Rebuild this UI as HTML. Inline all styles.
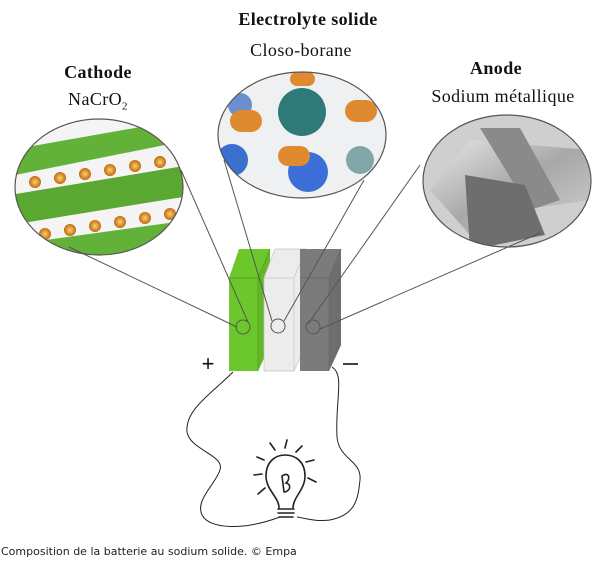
<!DOCTYPE html>
<html><head><meta charset="utf-8"><style>
body{margin:0;background:#fff;width:602px;height:562px;overflow:hidden;position:relative;font-family:"Liberation Serif",serif;}
.t{position:absolute;font-size:18px;letter-spacing:0.4px;color:#111;text-align:center;white-space:nowrap;transform:translateX(-50%);}
.b{font-weight:bold;}
.cap{position:absolute;left:1px;top:545px;font:11px "DejaVu Sans","Liberation Sans",sans-serif;color:#222;}
</style></head><body>
<div class="t b" style="left:308px;top:9px">Electrolyte solide</div>
<div class="t" style="left:301px;top:40px">Closo-borane</div>
<div class="t b" style="left:98px;top:62px">Cathode</div>
<div class="t" style="left:98px;top:89px">NaCrO<sub style="font-size:11px">2</sub></div>
<div class="t b" style="left:496px;top:58px">Anode</div>
<div class="t" style="left:503px;top:86px">Sodium métallique</div>
<svg width="602" height="562" style="position:absolute;left:0;top:0">
<defs>
<clipPath id="cl"><ellipse cx="99" cy="187" rx="84" ry="68"/></clipPath>
<clipPath id="cm"><ellipse cx="302" cy="135" rx="84" ry="63"/></clipPath>
<clipPath id="cr"><ellipse cx="507" cy="181" rx="84" ry="66"/></clipPath>
<radialGradient id="ball"><stop offset="0" stop-color="#ffd070"/><stop offset="1" stop-color="#c06a10"/></radialGradient>
<linearGradient id="metal" x1="0" y1="0" x2="1" y2="1"><stop offset="0" stop-color="#e8e8e8"/><stop offset="0.5" stop-color="#a8a8a8"/><stop offset="1" stop-color="#d0d0d0"/></linearGradient>
</defs>
<g clip-path="url(#cl)">
<rect x="0" y="110" width="200" height="160" fill="#f4f4f4"/>
<polygon points="10,150 180,120 190,140 15,175" fill="#62b23a"/>
<polygon points="10,195 190,165 195,195 10,225" fill="#5aa832"/>
<polygon points="10,245 190,220 195,250 10,275" fill="#62b23a"/>
<g fill="url(#ball)">
<circle cx="35" cy="182" r="6"/><circle cx="60" cy="178" r="6"/><circle cx="85" cy="174" r="6"/><circle cx="110" cy="170" r="6"/><circle cx="135" cy="166" r="6"/><circle cx="160" cy="162" r="6"/>
<circle cx="45" cy="234" r="6"/><circle cx="70" cy="230" r="6"/><circle cx="95" cy="226" r="6"/><circle cx="120" cy="222" r="6"/><circle cx="145" cy="218" r="6"/><circle cx="170" cy="214" r="6"/>
</g>
</g>
<ellipse cx="99" cy="187" rx="84" ry="68" fill="none" stroke="#555" stroke-width="1.2"/>
<g clip-path="url(#cm)">
<rect x="210" y="70" width="180" height="130" fill="#eef0f2"/>
<circle cx="302" cy="112" r="24" fill="#2f7a78"/>
<circle cx="232" cy="160" r="16" fill="#3b6fd0"/>
<circle cx="308" cy="172" r="20" fill="#3c70d8"/>
<circle cx="360" cy="160" r="14" fill="#7fa8a6"/>
<circle cx="240" cy="105" r="12" fill="#6a8fd0"/>
<rect x="230" y="110" width="32" height="22" rx="11" fill="#e08a30"/>
<rect x="278" y="146" width="32" height="20" rx="10" fill="#e08a30"/>
<rect x="345" y="100" width="32" height="22" rx="11" fill="#e08a30"/>
<rect x="290" y="72" width="25" height="14" rx="7" fill="#e08a30"/>
<rect x="218" y="180" width="22" height="18" rx="9" fill="#e08a30"/>
</g>
<ellipse cx="302" cy="135" rx="84" ry="63" fill="none" stroke="#555" stroke-width="1.2"/>
<g clip-path="url(#cr)">
<rect x="420" y="110" width="180" height="140" fill="#cfcfcf"/>
<polygon points="430,190 470,140 590,150 590,200 520,210 470,235" fill="url(#metal)"/>
<polygon points="480,128 520,128 560,200 530,210" fill="#8a8a8a"/>
<polygon points="465,175 525,185 545,235 470,250" fill="#6e6e6e"/>
</g>
<ellipse cx="507" cy="181" rx="84" ry="66" fill="none" stroke="#555" stroke-width="1.2"/>
<polygon points="229,278 239,249 270,249 270,345 258,371 229,371" fill="#6cc72c"/>
<polygon points="258,278 270,249 270,345 258,371" fill="#62b825"/>
<polyline points="229,278 258,278 258,371" fill="none" stroke="#4f9a1e" stroke-width="0.7"/>
<line x1="258" y1="278" x2="270" y2="249" stroke="#4f9a1e" stroke-width="0.7"/>
<polygon points="264,278 275,249 306,249 306,345 294,371 264,371" fill="#ececec" stroke="#c4c4c4" stroke-width="0.7"/>
<polyline points="264,278 294,278 294,371" fill="none" stroke="#c4c4c4" stroke-width="0.7"/>
<line x1="294" y1="278" x2="306" y2="249" stroke="#c4c4c4" stroke-width="0.7"/>
<polygon points="300,278 300,249 341,249 341,345 329,371 300,371" fill="#7b7b7b"/>
<polygon points="329,278 341,249 341,345 329,371" fill="#6e6e6e"/>
<polyline points="300,278 329,278 329,371" fill="none" stroke="#666" stroke-width="0.7"/>
<line x1="329" y1="278" x2="341" y2="249" stroke="#666" stroke-width="0.7"/>
<g stroke="#555" stroke-width="1" fill="none">
<line x1="69" y1="247" x2="237" y2="327"/>
<line x1="181" y1="170" x2="248" y2="322"/>
<line x1="224" y1="160" x2="272" y2="321"/>
<line x1="364" y1="180" x2="284" y2="321"/>
<line x1="420" y1="165" x2="308" y2="324"/>
<line x1="540" y1="233" x2="320" y2="329"/>
<circle cx="243" cy="327" r="7"/>
<circle cx="278" cy="326" r="7"/>
<circle cx="313" cy="327" r="7"/>
</g>
<text x="208" y="371" font-family="Liberation Sans,sans-serif" font-size="22" text-anchor="middle" fill="#111">+</text>
<line x1="343" y1="364" x2="358" y2="364" stroke="#111" stroke-width="1.6"/>
<path d="M233,372 C210,395 185,410 187,432 C190,450 225,455 220,470 C215,485 195,500 202,515 C210,530 245,530 280,517" fill="none" stroke="#222" stroke-width="1"/>
<path d="M332,367 C345,375 335,400 337,437 C339,460 362,460 360,480 C358,500 355,515 330,520 C315,522 305,518 297,517" fill="none" stroke="#222" stroke-width="1"/>
<g stroke="#222" stroke-width="1.6" fill="none" stroke-linecap="round">
<path d="M279,508 C279,497 266,490 266,476 C266,462 275,455 285,455 C296,455 305,462 305,476 C305,490 293,497 293,508"/>
<path d="M278,509 L294,509 M278,513 L294,513 M279,517 L293,517"/>
<path d="M284,492 L282,476 C289,471 291,479 286,483 C293,485 289,492 284,492"/>
<path d="M285,448 L287,440 M275,450 L270,443 M296,452 L302,446 M264,460 L257,457 M306,462 L314,460 M262,474 L254,475 M308,478 L316,482 M265,488 L258,494"/>
</g>
</svg>
<div class="cap">Composition de la batterie au sodium solide. © Empa</div>
</body></html>
